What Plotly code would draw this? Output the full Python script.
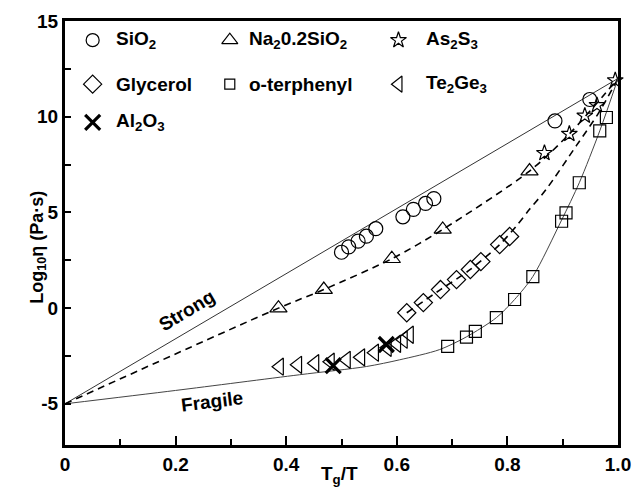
import plotly.graph_objects as go

# ---------------- data ----------------
sio2_x = [0.500, 0.513, 0.530, 0.545, 0.562, 0.611, 0.630, 0.652, 0.667, 0.886, 0.949]
sio2_y = [2.92, 3.20, 3.50, 3.76, 4.15, 4.77, 5.16, 5.47, 5.72, 9.78, 10.9]

na_x = [0.386, 0.468, 0.591, 0.683, 0.840]
na_y = [0.0, 0.97, 2.58, 4.11, 7.16]

as_x = [0.867, 0.912, 0.940, 0.962, 0.995]
as_y = [8.1, 9.1, 10.05, 10.6, 11.9]

gly_x = [0.618, 0.648, 0.679, 0.708, 0.733, 0.752, 0.786, 0.804]
gly_y = [-0.24, 0.29, 0.97, 1.49, 2.02, 2.43, 3.32, 3.74]

ot_x = [0.692, 0.726, 0.742, 0.780, 0.813, 0.846, 0.898, 0.906, 0.930, 0.967, 0.979]
ot_y = [-2.0, -1.51, -1.21, -0.50, 0.45, 1.65, 4.54, 4.98, 6.55, 9.26, 9.96]

te_x = [0.388, 0.421, 0.452, 0.480, 0.509, 0.535, 0.560, 0.583, 0.600, 0.612, 0.623]
te_y = [-3.06, -2.96, -2.88, -2.80, -2.70, -2.57, -2.33, -2.07, -1.86, -1.65, -1.39]

al_x = [0.485, 0.581]
al_y = [-3.0, -1.9]

# guide curves
strong_x = [0.0, 1.0]
strong_y = [-5.0, 12.0]

na_curve_x = [0.0, 0.386, 0.468, 0.591, 0.683, 0.840, 0.912, 1.0]
na_curve_y = [-5.0, 0.0, 0.97, 2.58, 4.11, 7.16, 9.1, 12.0]

gly_curve_x = [0.618, 0.679, 0.733, 0.786, 0.816, 0.840, 0.870, 0.925, 0.965, 1.0]
gly_curve_y = [-0.24, 0.97, 2.02, 3.32, 4.28, 5.16, 6.2, 8.5, 10.2, 12.0]

frag_x = [0.0, 0.2, 0.424, 0.545, 0.605, 0.677, 0.726, 0.780, 0.813, 0.846, 0.898, 0.930, 0.967, 1.0]
frag_y = [-5.0, -4.3, -3.48, -3.05, -2.70, -2.17, -1.50, -0.50, 0.45, 1.65, 4.60, 6.55, 9.26, 12.0]

x_tickvals = [0, 0.2, 0.4, 0.6, 0.8, 1.0]
x_ticktext = ["0", "0.2", "0.4", "0.6", "0.8", "1.0"]
y_tickvals = [-5, 0, 5, 10, 15]
y_ticktext = ["-5", "0", "5", "10", "15"]

legend_labels = ["SiO<sub>2</sub>", "Na<sub>2</sub>0.2SiO<sub>2</sub>", "As<sub>2</sub>S<sub>3</sub>",
                 "Glycerol", "o-terphenyl", "Te<sub>2</sub>Ge<sub>3</sub>", "Al<sub>2</sub>O<sub>3</sub>"]

# ---------------- styling ----------------
FONT = "Liberation Sans, Arial, sans-serif"
BLACK = "black"

fig = go.Figure()

def line(x, y, dash="solid", width=1.0, color="#222"):
    fig.add_trace(go.Scatter(x=x, y=y, mode="lines", showlegend=False, hoverinfo="skip",
                             line=dict(color=color, width=width, dash=dash, shape="spline", smoothing=0.8)))

line(strong_x, strong_y, width=1.0, color="#333")
line(na_curve_x, na_curve_y, dash="7px,5px", width=1.6, color=BLACK)
line(gly_curve_x, gly_curve_y, dash="7px,5px", width=1.6, color=BLACK)
line(frag_x, frag_y, width=1.0, color="#444")

def markers(x, y, symbol, size=14, lw=1.2):
    fig.add_trace(go.Scatter(x=x, y=y, mode="markers", showlegend=False, cliponaxis=False,
                             marker=dict(symbol=symbol, size=size, color=BLACK,
                                         line=dict(color=BLACK, width=lw))))

markers(sio2_x, sio2_y, "circle-open", 14)
markers(na_x, na_y, "triangle-up-open", 15)
markers(as_x, as_y, "star-open", 12)
markers(gly_x, gly_y, "diamond-open", 14)
markers(ot_x, ot_y, "square-open", 12)
markers(te_x, te_y, "triangle-left-open", 15)
markers(al_x, al_y, "x-thin-open", 15, lw=3.2)

# ---------------- in-plot legend (3 columns) ----------------
leg_symbols = ["circle-open", "triangle-up-open", "star-open",
               "diamond-open", "square-open", "triangle-left-open", "x-thin-open"]
leg_sizes = [13, 14, 12, 14, 10, 14, 15]
leg_widths = [1.2, 1.2, 1.2, 1.2, 1.2, 1.2, 3.2]
col_marker_x = [0.050, 0.298, 0.603]
col_text_x = [0.088, 0.330, 0.650]
row_y = [14.0, 11.7, 9.7]

for i, lab in enumerate(legend_labels):
    r, c = divmod(i, 3)
    fig.add_trace(go.Scatter(x=[col_marker_x[c]], y=[row_y[r]], mode="markers", showlegend=False,
                             marker=dict(symbol=leg_symbols[i], size=leg_sizes[i], color=BLACK,
                                         line=dict(color=BLACK, width=leg_widths[i]))))
    fig.add_annotation(x=col_text_x[c], y=row_y[r], text=lab, showarrow=False, xanchor="left",
                       yanchor="middle", font=dict(family=FONT, size=19, color=BLACK, weight="bold"))

fig.add_annotation(x=0.220, y=-0.10, text="Strong", showarrow=False, textangle=-31,
                   font=dict(family=FONT, size=19, color=BLACK, weight="bold"))
fig.add_annotation(x=0.265, y=-4.88, text="Fragile", showarrow=False, textangle=-7,
                   font=dict(family=FONT, size=19, color=BLACK, weight="bold"))

# axis titles as annotations
fig.add_annotation(xref="paper", yref="paper", x=0.497, y=-0.103, text="T<sub>g</sub>/T",
                   showarrow=False, font=dict(family=FONT, size=19, color=BLACK, weight="bold"))
fig.add_annotation(xref="paper", yref="paper", x=-0.072, y=0.467, text="Log<sub>10</sub>η (Pa·s)",
                   showarrow=False, textangle=-90,
                   font=dict(family=FONT, size=18, color=BLACK, weight="bold"))

axis_common = dict(showline=True, linecolor=BLACK, linewidth=3, mirror=True, showgrid=False,
                   zeroline=False, ticks="inside", tickcolor=BLACK, tickwidth=1.5,
                   tickfont=dict(family=FONT, size=19, color=BLACK, weight="bold"))

fig.update_xaxes(range=[0, 1.0], tickvals=x_tickvals, ticktext=x_ticktext, ticklen=9,
                 minor=dict(dtick=0.1, tick0=0, ticks="inside", ticklen=6, tickcolor=BLACK, tickwidth=1.5),
                 **axis_common)
fig.update_yaxes(range=[-7.15, 15], tickvals=y_tickvals, ticktext=y_ticktext, ticklen=6,
                 minor=dict(dtick=2.5, tick0=0, ticks="inside", ticklen=6, tickcolor=BLACK, tickwidth=1.5),
                 **axis_common)

fig.update_layout(width=634, height=499, margin=dict(l=65, r=16, t=21, b=54, autoexpand=False),
                  plot_bgcolor="white", paper_bgcolor="white", showlegend=False,
                  font=dict(family=FONT, color=BLACK))

fig.write_html("out.html")
